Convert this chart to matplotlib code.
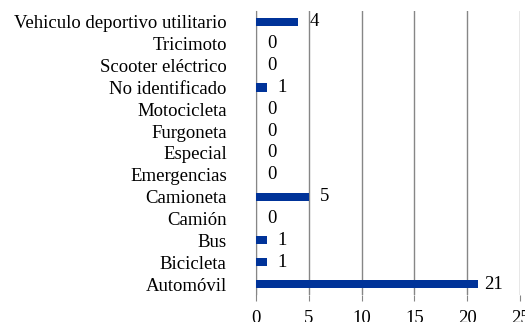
import matplotlib.pyplot as plt

categorias = ["Vehiculo deportivo utilitario", "Tricimoto", "Scooter eléctrico",
              "No identificado", "Motocicleta", "Furgoneta", "Especial",
              "Emergencias", "Camioneta", "Camión", "Bus", "Bicicleta", "Automóvil"]
valores = [4, 0, 0, 1, 0, 0, 0, 0, 5, 0, 1, 1, 21]
ticks_x = [0, 5, 10, 15, 20, 25]

plt.rcParams['font.family'] = ['Liberation Serif', 'DejaVu Serif']

fig = plt.figure(figsize=(5.25, 3.22), dpi=100)
ax = fig.add_axes([0.4876, 0.0839, 0.5029, 0.8819])

pos = list(range(len(categorias)))
ax.barh(pos, valores, height=0.37, color="#003399", zorder=3)
for p, v in zip(pos, valores):
    ax.annotate(str(v), (v, p), xytext=(11.5, 0), textcoords="offset points",
                ha="center", va="center", fontsize=13.5)

ax.set_xlim(0, 25)
ax.set_ylim(len(categorias) - 0.5, -0.5)
ax.set_xticks(ticks_x)
ax.set_yticks(pos)
ax.set_yticklabels(categorias)
ax.tick_params(axis="y", length=0, pad=21, labelsize=13.5)
ax.tick_params(axis="x", length=4, color="#868686", pad=7, labelsize=13.5)
ax.grid(axis="x", color="#868686", linewidth=1)
for s in ["top", "right", "bottom"]:
    ax.spines[s].set_visible(False)
ax.spines["left"].set_color("#868686")

fig.savefig("out.png", dpi=100)
